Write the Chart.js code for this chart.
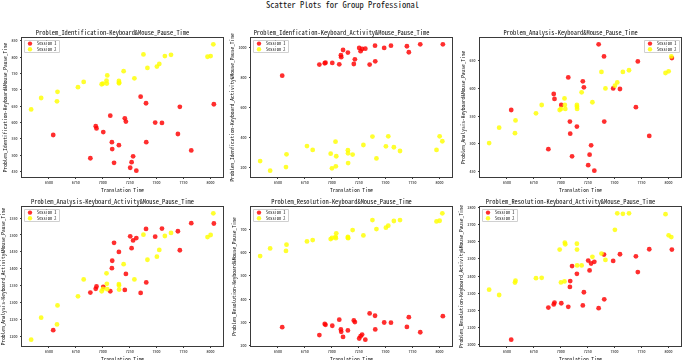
<!DOCTYPE html>
<html>
<head>
<meta charset="utf-8">
<script src="https://cdn.jsdelivr.net/npm/chart.js@4"></script>
<style>
  body { margin: 0; background: #fff; width: 685px; height: 360px; position: relative; overflow: hidden; }
  canvas { position: absolute; }
  #suptitle { position: absolute; left: 0; top: 0; width: 685px; text-align: center; color: #111;
    font: 8.5px 'Noto Sans Mono CJK SC', 'DejaVu Sans Mono', monospace; line-height: 9px; }
</style>
</head>
<body>
<div id="suptitle">Scatter Plots for Group Professional</div>
<script>
"use strict";

// translation time per participant, one list per session
var translationS1 = [6540, 6885, 6935, 6942, 7005, 7070, 7085, 7088, 7105, 7150, 7205, 7215, 7255, 7268, 7282, 7312, 7352, 7402, 7404, 7487, 7550, 7698, 7716, 7822, 8032];
var translationS2 = [6335, 6428, 6575, 6580, 6770, 6823, 6990, 7002, 7035, 7038, 7042, 7150, 7151, 7152, 7194, 7294, 7378, 7415, 7503, 7525, 7577, 7634, 7973, 8002, 8027];

var identKmS1 = [562, 491, 589, 582, 571, 621, 540, 519, 477, 531, 613, 603, 462, 479, 497, 453, 679, 659, 540, 600, 599, 565, 648, 515, 656];
var identKmS2 = [640, 675, 665, 694, 708, 724, 717, 719, 728, 719, 744, 727, 720, 722, 757, 735, 808, 767, 771, 779, 803, 807, 801, 803, 839];
var identKaS1 = [813, 887, 896, 900, 898, 889, 949, 936, 984, 967, 891, 922, 998, 976, 991, 993, 887, 1013, 909, 998, 1013, 1009, 969, 1022, 1022];
var identKaS2 = [244, 180, 204, 289, 344, 318, 293, 196, 373, 209, 276, 316, 296, 231, 287, 351, 407, 262, 342, 409, 336, 311, 318, 409, 376];
var analysisKmS1 = [561, 490, 590, 581, 570, 620, 540, 518, 477, 531, 613, 602, 461, 480, 497, 451, 680, 658, 540, 600, 599, 566, 649, 514, 655];
var analysisKmS2 = [501, 529, 519, 542, 555, 570, 561, 563, 582, 570, 563, 570, 567, 563, 593, 575, 630, 600, 605, 611, 630, 633, 628, 631, 658];
var analysisKaS1 = [1219, 1330, 1341, 1348, 1347, 1334, 1402, 1424, 1477, 1450, 1338, 1385, 1496, 1461, 1484, 1491, 1329, 1518, 1360, 1495, 1519, 1511, 1455, 1535, 1534];
var analysisKaS2 = [1191, 1256, 1236, 1292, 1319, 1369, 1334, 1341, 1387, 1356, 1340, 1355, 1351, 1339, 1414, 1369, 1501, 1427, 1436, 1456, 1497, 1506, 1494, 1500, 1564];
var resolutionKmS1 = [279, 245, 293, 289, 285, 311, 269, 259, 237, 265, 308, 301, 230, 240, 247, 225, 338, 328, 269, 299, 298, 280, 322, 257, 326];
var resolutionKmS2 = [585, 618, 607, 634, 648, 654, 658, 663, 668, 662, 683, 668, 664, 662, 697, 674, 740, 701, 707, 716, 736, 740, 734, 737, 769];
var resolutionKaS1 = [2030, 2217, 2235, 2246, 2242, 2221, 2337, 2371, 2458, 2413, 2229, 2306, 2490, 2433, 2473, 2483, 2213, 2525, 2265, 2488, 2527, 2515, 2423, 2556, 2554];
var resolutionKaS2 = [2321, 2290, 2362, 2373, 2388, 2390, 2554, 2363, 2369, 2594, 2585, 2588, 2554, 2462, 2462, 2512, 2531, 2494, 2669, 2765, 2762, 2765, 2760, 2637, 2627];

var xTicks = [6500, 6750, 7000, 7250, 7500, 7750, 8000];
var identKmTicks = [450, 500, 550, 600, 650, 700, 750, 800, 850];
var identKaTicks = [200, 400, 600, 800, 1000];
var analysisKmTicks = [450, 500, 550, 600, 650];
var analysisKaTicks = [1200, 1250, 1300, 1350, 1400, 1450, 1500, 1550];
var resolutionKmTicks = [200, 300, 400, 500, 600, 700];
var resolutionKaTicks = [2000, 2100, 2200, 2300, 2400, 2500, 2600, 2700, 2800];

var sessionLabels = ['Session 1', 'Session 2'];
var xTitle = 'Translation Time';

var FONT = "'Noto Sans Mono CJK SC', 'DejaVu Sans Mono', monospace";
var RED = 'rgba(255,0,0,0.82)';
var YELLOW = 'rgba(255,255,0,0.82)';
var PLOT_W = 201, PLOT_H = 139;
var PAD_L = 24, PAD_T = 14, PAD_R = 4, PAD_B = 18;

function pairs(xs, ys) {
  return xs.map(function(x, i) { return { x: x, y: ys[i] }; });
}

// matplotlib-like autoscale: data range plus 5% each side
function paddedRange(a, b) {
  var all = a.concat(b);
  var lo = Math.min.apply(null, all), hi = Math.max.apply(null, all);
  var m = (hi - lo) * 0.05;
  return { min: lo - m, max: hi + m };
}

function plainTick(v) { return String(v); }

var frameBox = {
  id: 'frameBox',
  afterDraw: function(chart) {
    var a = chart.chartArea, ctx = chart.ctx;
    ctx.save();
    ctx.strokeStyle = '#3a3a3a';
    ctx.lineWidth = 1;
    ctx.strokeRect(Math.round(a.left) - 0.5, Math.round(a.top) - 0.5,
      Math.round(a.right - a.left) + 1, Math.round(a.bottom - a.top) + 1);
    ctx.restore();
  }
};

var sessionLegend = {
  id: 'sessionLegend',
  afterDatasetsDraw: function(chart, args, opts) {
    var a = chart.chartArea, ctx = chart.ctx;
    var w = 35, h = 12;
    var x = opts.corner === 'right' ? a.right - 2 - w : a.left + 2;
    var y = a.top + 2;
    ctx.save();
    ctx.fillStyle = 'rgba(255,255,255,0.85)';
    ctx.strokeStyle = '#d0d0d0';
    ctx.lineWidth = 1;
    ctx.beginPath();
    ctx.rect(Math.round(x) + 0.5, Math.round(y) + 0.5, w, h);
    ctx.fill();
    ctx.stroke();
    ctx.font = '4.3px ' + FONT;
    ctx.textBaseline = 'middle';
    chart.data.datasets.forEach(function(ds, i) {
      var cy = y + 3.6 + i * 5.6;
      ctx.fillStyle = ds.backgroundColor;
      ctx.beginPath();
      ctx.arc(x + 6, cy, 2.2, 0, Math.PI * 2);
      ctx.fill();
      ctx.fillStyle = '#111';
      ctx.fillText(ds.label, x + 13, cy);
    });
    ctx.restore();
  }
};

function makePlot(spec) {
  var canvas = document.createElement('canvas');
  canvas.width = PAD_L + PLOT_W + PAD_R;
  canvas.height = PAD_T + PLOT_H + PAD_B;
  canvas.style.left = (spec.left - PAD_L) + 'px';
  canvas.style.top = (spec.top - PAD_T) + 'px';
  document.body.appendChild(canvas);

  var xr = paddedRange(translationS1, translationS2);
  var yr = paddedRange(spec.s1, spec.s2);
  var titleCenter = PAD_T - 5.8;
  var yTitleCenter = PAD_L - spec.labelGap;

  return new Chart(canvas, {
    type: 'scatter',
    data: {
      datasets: [
        { label: sessionLabels[0], data: pairs(translationS1, spec.s1), backgroundColor: RED,
          borderWidth: 0, pointRadius: 2.4, order: 1 },
        { label: sessionLabels[1], data: pairs(translationS2, spec.s2), backgroundColor: YELLOW,
          borderWidth: 0, pointRadius: 2.4, order: 0 }
      ]
    },
    options: {
      responsive: false,
      animation: false,
      layout: { padding: 0 },
      plugins: {
        legend: { display: false },
        tooltip: { enabled: false },
        title: {
          display: true, text: spec.title, color: '#111',
          font: { family: FONT, size: 6.4, weight: 'normal', lineHeight: 1.2 },
          padding: { top: titleCenter - 3.84, bottom: PAD_T - 7.68 - (titleCenter - 3.84) }
        },
        sessionLegend: { corner: spec.corner }
      },
      scales: {
        x: {
          type: 'linear', min: xr.min, max: xr.max,
          afterBuildTicks: function(s) { s.ticks = xTicks.map(function(v) { return { value: v }; }); },
          afterFit: function(s) { s.height = PAD_B; },
          grid: { display: true, drawOnChartArea: false, drawTicks: true, tickLength: 2, color: '#3a3a3a' },
          border: { display: false },
          ticks: { font: { family: FONT, size: 4 }, color: '#111', padding: 1.5, maxRotation: 0, callback: plainTick },
          title: { display: true, text: xTitle, color: '#111',
            font: { family: FONT, size: 5.4, lineHeight: 1.2 }, padding: { top: 0, bottom: 2 } }
        },
        y: {
          type: 'linear', min: yr.min, max: yr.max,
          afterBuildTicks: function(s) {
            s.ticks = spec.ticks.filter(function(v) { return v >= yr.min && v <= yr.max; })
              .map(function(v) { return { value: v }; });
          },
          afterFit: function(s) { s.width = PAD_L; },
          grid: { display: true, drawOnChartArea: false, drawTicks: true, tickLength: 2, color: '#3a3a3a' },
          border: { display: false },
          ticks: { font: { family: FONT, size: 4 }, color: '#111', padding: 2.5, callback: plainTick },
          title: { display: true, text: spec.yTitle, color: '#111',
            font: { family: FONT, size: 5.4, lineHeight: 1.2 }, padding: { top: yTitleCenter - 3.24, bottom: 0 } }
        }
      }
    },
    plugins: [frameBox, sessionLegend]
  });
}

var plots = [
  { left: 22, top: 38, labelGap: 16.8, corner: 'left', s1: identKmS1, s2: identKmS2, ticks: identKmTicks,
    title: 'Problem_Identification-Keyboard&Mouse_Pause_Time',
    yTitle: 'Problem_Identification-Keyboard&Mouse_Pause_Time' },
  { left: 251, top: 38, labelGap: 18.8, corner: 'left', s1: identKaS1, s2: identKaS2, ticks: identKaTicks,
    title: 'Problem_Idenfication-Keyboard_Activity&Mouse_Pause_Time',
    yTitle: 'Problem_Idenfication-Keyboard_Activity&Mouse_Pause_Time' },
  { left: 480, top: 38, labelGap: 16.8, corner: 'right', s1: analysisKmS1, s2: analysisKmS2, ticks: analysisKmTicks,
    title: 'Problem_Analysis-Keyboard&Mouse_Pause_Time',
    yTitle: 'Problem_Analysis-Keyboard&Mouse_Pause_Time' },
  { left: 22, top: 207, labelGap: 18.8, corner: 'left', s1: analysisKaS1, s2: analysisKaS2, ticks: analysisKaTicks,
    title: 'Problem_Analysis-Keyboard_Activity&Mouse_Pause_Time',
    yTitle: 'Problem_Analysis-Keyboard_Activity&Mouse_Pause_Time' },
  { left: 251, top: 207, labelGap: 16.8, corner: 'left', s1: resolutionKmS1, s2: resolutionKmS2, ticks: resolutionKmTicks,
    title: 'Problem_Resolution-Keyboard&Mouse_Pause_Time',
    yTitle: 'Problem_Resolution-Keyboard&Mouse_Pause_Time' },
  { left: 480, top: 207, labelGap: 18.8, corner: 'left', s1: resolutionKaS1, s2: resolutionKaS2, ticks: resolutionKaTicks,
    title: 'Problem_Resolution-Keyboard_Activity&Mouse_Pause_Time',
    yTitle: 'Problem_Resolution-Keyboard_Activity&Mouse_Pause_Time' }
];

plots.forEach(makePlot);
</script>
</body>
</html>
